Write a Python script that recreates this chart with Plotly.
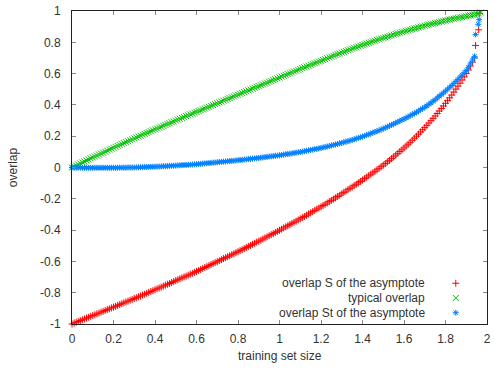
import plotly.graph_objects as go

# training set size (alpha) at which the overlaps were evaluated
alpha = [
    0.00, 0.01, 0.02, 0.03, 0.04, 0.05, 0.06, 0.07, 0.08, 0.09,
    0.10, 0.11, 0.12, 0.13, 0.14, 0.15, 0.16, 0.17, 0.18, 0.19,
    0.20, 0.21, 0.22, 0.23, 0.24, 0.25, 0.26, 0.27, 0.28, 0.29,
    0.30, 0.31, 0.32, 0.33, 0.34, 0.35, 0.36, 0.37, 0.38, 0.39,
    0.40, 0.41, 0.42, 0.43, 0.44, 0.45, 0.46, 0.47, 0.48, 0.49,
    0.50, 0.51, 0.52, 0.53, 0.54, 0.55, 0.56, 0.57, 0.58, 0.59,
    0.60, 0.61, 0.62, 0.63, 0.64, 0.65, 0.66, 0.67, 0.68, 0.69,
    0.70, 0.71, 0.72, 0.73, 0.74, 0.75, 0.76, 0.77, 0.78, 0.79,
    0.80, 0.81, 0.82, 0.83, 0.84, 0.85, 0.86, 0.87, 0.88, 0.89,
    0.90, 0.91, 0.92, 0.93, 0.94, 0.95, 0.96, 0.97, 0.98, 0.99,
    1.00, 1.01, 1.02, 1.03, 1.04, 1.05, 1.06, 1.07, 1.08, 1.09,
    1.10, 1.11, 1.12, 1.13, 1.14, 1.15, 1.16, 1.17, 1.18, 1.19,
    1.20, 1.21, 1.22, 1.23, 1.24, 1.25, 1.26, 1.27, 1.28, 1.29,
    1.30, 1.31, 1.32, 1.33, 1.34, 1.35, 1.36, 1.37, 1.38, 1.39,
    1.40, 1.41, 1.42, 1.43, 1.44, 1.45, 1.46, 1.47, 1.48, 1.49,
    1.50, 1.51, 1.52, 1.53, 1.54, 1.55, 1.56, 1.57, 1.58, 1.59,
    1.60, 1.61, 1.62, 1.63, 1.64, 1.65, 1.66, 1.67, 1.68, 1.69,
    1.70, 1.71, 1.72, 1.73, 1.74, 1.75, 1.76, 1.77, 1.78, 1.79,
    1.80, 1.81, 1.82, 1.83, 1.84, 1.85, 1.86, 1.87, 1.88, 1.89,
    1.90, 1.91, 1.92, 1.93, 1.94,
]

# overlap S of the asymptote
overlap_s = [
    -1.000, -0.994, -0.989, -0.984, -0.978, -0.973, -0.968, -0.962, -0.957, -0.951,
    -0.946, -0.941, -0.935, -0.930, -0.924, -0.919, -0.914, -0.908, -0.903, -0.897,
    -0.892, -0.887, -0.881, -0.876, -0.870, -0.865, -0.859, -0.854, -0.848, -0.843,
    -0.837, -0.832, -0.826, -0.821, -0.815, -0.810, -0.804, -0.798, -0.792, -0.787,
    -0.781, -0.775, -0.770, -0.764, -0.758, -0.752, -0.746, -0.741, -0.735, -0.729,
    -0.723, -0.717, -0.711, -0.705, -0.699, -0.694, -0.688, -0.682, -0.676, -0.670,
    -0.664, -0.658, -0.652, -0.645, -0.639, -0.633, -0.627, -0.620, -0.614, -0.608,
    -0.602, -0.595, -0.589, -0.582, -0.576, -0.570, -0.564, -0.557, -0.551, -0.544,
    -0.538, -0.531, -0.525, -0.518, -0.511, -0.504, -0.498, -0.491, -0.484, -0.477,
    -0.471, -0.464, -0.457, -0.450, -0.443, -0.436, -0.429, -0.422, -0.415, -0.408,
    -0.401, -0.394, -0.386, -0.379, -0.372, -0.365, -0.357, -0.350, -0.343, -0.335,
    -0.328, -0.320, -0.313, -0.305, -0.297, -0.290, -0.282, -0.274, -0.266, -0.259,
    -0.251, -0.243, -0.235, -0.227, -0.218, -0.210, -0.202, -0.194, -0.185, -0.177,
    -0.168, -0.159, -0.151, -0.142, -0.133, -0.125, -0.116, -0.107, -0.098, -0.089,
    -0.080, -0.071, -0.062, -0.053, -0.043, -0.034, -0.024, -0.015, -0.005, 0.005,
    0.015, 0.025, 0.036, 0.046, 0.057, 0.068, 0.079, 0.090, 0.102, 0.113,
    0.125, 0.137, 0.149, 0.161, 0.174, 0.187, 0.200, 0.213, 0.227, 0.241,
    0.255, 0.269, 0.284, 0.299, 0.314, 0.329, 0.345, 0.361, 0.377, 0.393,
    0.410, 0.427, 0.445, 0.463, 0.482, 0.501, 0.520, 0.539, 0.559, 0.579,
    0.600, 0.623, 0.648, 0.673, 0.700,
]
alpha_s_tail = [1.945, 1.960, 1.965]
overlap_s_tail = [0.780, 0.880, 0.985]

# typical overlap
overlap_typ = [
    0.000, 0.006, 0.013, 0.019, 0.026, 0.032, 0.038, 0.045, 0.051, 0.058,
    0.064, 0.070, 0.076, 0.083, 0.089, 0.095, 0.101, 0.108, 0.114, 0.120,
    0.126, 0.132, 0.138, 0.144, 0.150, 0.156, 0.162, 0.168, 0.174, 0.180,
    0.186, 0.192, 0.198, 0.203, 0.209, 0.215, 0.221, 0.226, 0.232, 0.238,
    0.244, 0.249, 0.255, 0.260, 0.266, 0.272, 0.278, 0.283, 0.289, 0.294,
    0.300, 0.306, 0.311, 0.317, 0.322, 0.328, 0.333, 0.339, 0.344, 0.350,
    0.355, 0.361, 0.366, 0.372, 0.377, 0.383, 0.388, 0.394, 0.399, 0.405,
    0.410, 0.416, 0.421, 0.427, 0.432, 0.438, 0.443, 0.449, 0.454, 0.460,
    0.465, 0.471, 0.476, 0.482, 0.487, 0.493, 0.498, 0.504, 0.509, 0.515,
    0.520, 0.526, 0.531, 0.537, 0.542, 0.548, 0.553, 0.559, 0.564, 0.570,
    0.575, 0.581, 0.586, 0.591, 0.597, 0.602, 0.607, 0.613, 0.618, 0.624,
    0.629, 0.635, 0.640, 0.645, 0.650, 0.656, 0.661, 0.666, 0.671, 0.677,
    0.682, 0.687, 0.692, 0.698, 0.703, 0.708, 0.713, 0.719, 0.724, 0.729,
    0.734, 0.739, 0.744, 0.749, 0.754, 0.759, 0.764, 0.769, 0.773, 0.778,
    0.783, 0.788, 0.792, 0.797, 0.801, 0.806, 0.810, 0.815, 0.819, 0.824,
    0.828, 0.832, 0.836, 0.840, 0.844, 0.849, 0.853, 0.857, 0.861, 0.865,
    0.869, 0.873, 0.876, 0.880, 0.884, 0.888, 0.891, 0.895, 0.899, 0.902,
    0.906, 0.910, 0.913, 0.916, 0.919, 0.923, 0.926, 0.929, 0.932, 0.936,
    0.939, 0.942, 0.945, 0.948, 0.950, 0.953, 0.956, 0.959, 0.961, 0.964,
    0.967, 0.970, 0.972, 0.975, 0.978,
]
alpha_typ_tail = [1.95, 1.96, 1.97]
overlap_typ_tail = [0.981, 0.985, 0.990]

# overlap St of the asymptote
overlap_st = [
    0.000, 0.000, -0.001, -0.001, -0.001, -0.002, -0.002, -0.002, -0.002, -0.002,
    -0.002, -0.002, -0.002, -0.002, -0.002, -0.002, -0.002, -0.002, -0.002, -0.002,
    -0.002, -0.002, -0.002, -0.001, -0.001, -0.001, -0.001, 0.000, 0.000, 0.000,
    0.000, 0.001, 0.001, 0.002, 0.002, 0.003, 0.003, 0.004, 0.004, 0.005,
    0.005, 0.006, 0.006, 0.007, 0.008, 0.008, 0.009, 0.010, 0.011, 0.011,
    0.012, 0.013, 0.014, 0.015, 0.016, 0.016, 0.017, 0.018, 0.019, 0.020,
    0.021, 0.022, 0.023, 0.025, 0.026, 0.027, 0.028, 0.030, 0.031, 0.032,
    0.033, 0.035, 0.036, 0.037, 0.038, 0.040, 0.041, 0.042, 0.043, 0.045,
    0.046, 0.048, 0.049, 0.051, 0.052, 0.054, 0.055, 0.057, 0.058, 0.060,
    0.061, 0.063, 0.064, 0.066, 0.068, 0.070, 0.071, 0.073, 0.075, 0.076,
    0.078, 0.080, 0.082, 0.084, 0.086, 0.088, 0.090, 0.093, 0.095, 0.097,
    0.099, 0.102, 0.104, 0.107, 0.109, 0.112, 0.114, 0.117, 0.119, 0.122,
    0.125, 0.128, 0.131, 0.134, 0.137, 0.141, 0.144, 0.147, 0.150, 0.154,
    0.157, 0.161, 0.165, 0.168, 0.172, 0.176, 0.180, 0.185, 0.189, 0.193,
    0.197, 0.202, 0.207, 0.212, 0.217, 0.222, 0.227, 0.232, 0.237, 0.243,
    0.248, 0.254, 0.260, 0.266, 0.272, 0.278, 0.284, 0.291, 0.297, 0.304,
    0.310, 0.317, 0.324, 0.331, 0.339, 0.346, 0.353, 0.361, 0.369, 0.377,
    0.385, 0.394, 0.404, 0.413, 0.423, 0.433, 0.444, 0.455, 0.466, 0.477,
    0.488, 0.500, 0.512, 0.524, 0.537, 0.550, 0.563, 0.577, 0.591, 0.605,
    0.620, 0.640, 0.662, 0.686, 0.710,
]
alpha_st_tail = [1.945, 1.958, 1.962]
overlap_st_tail = [0.850, 0.915, 0.945]

x_ticks = [0, 0.2, 0.4, 0.6, 0.8, 1, 1.2, 1.4, 1.6, 1.8, 2]
x_tick_text = ["0", "0.2", "0.4", "0.6", "0.8", "1", "1.2", "1.4", "1.6", "1.8", "2"]
y_ticks = [-1, -0.8, -0.6, -0.4, -0.2, 0, 0.2, 0.4, 0.6, 0.8, 1]
y_tick_text = ["-1", "-0.8", "-0.6", "-0.4", "-0.2", "0", "0.2", "0.4", "0.6", "0.8", "1"]

series_names = ["overlap S of the asymptote", "typical overlap", "overlap St of the asymptote"]
series_colors = ["#ff0000", "#00c000", "#0080ff"]
series_symbols = ["cross-thin", "x-thin", "asterisk"]
series_sizes = [5, 6, 5]

FONT = "Liberation Sans, Arial, sans-serif"
TEXT = "#333333"

fig = go.Figure()

series = [
    (alpha + alpha_s_tail, overlap_s + overlap_s_tail),
    (alpha + alpha_typ_tail, overlap_typ + overlap_typ_tail),
    (alpha + alpha_st_tail, overlap_st + overlap_st_tail),
]
for (xs, ys), name, color, sym, size in zip(series, series_names, series_colors,
                                            series_symbols, series_sizes):
    fig.add_trace(go.Scatter(
        x=xs, y=ys, mode="markers", name=name, showlegend=False,
        cliponaxis=False,
        marker=dict(symbol=sym, size=size, color=color,
                    line=dict(color=color, width=1)),
    ))

# key: label text on the left, sample point on the right
# (rows sit on half-pixel centres so the thin symbols stay crisp)
key_x = 0.9248
key_rows = [0.1301, 0.0831, 0.0361]
for name, color, sym, size, ky in zip(series_names, series_colors, series_symbols,
                                      series_sizes, key_rows):
    fig.add_trace(go.Scatter(
        x=[key_x], y=[ky], xaxis="x2", yaxis="y2", mode="markers",
        showlegend=False, hoverinfo="skip", cliponaxis=False,
        marker=dict(symbol=sym, size=size, color=color,
                    line=dict(color=color, width=1)),
    ))
    fig.add_annotation(
        x=0.856, y=ky, xref="paper", yref="paper", text=name,
        showarrow=False, xanchor="right", yanchor="middle",
        font=dict(family=FONT, size=12, color=TEXT),
    )

axis_common = dict(
    showline=True, linecolor="#222222", linewidth=1, mirror="allticks",
    ticks="inside", ticklen=4, tickcolor="#888888", tickwidth=1,
    showgrid=False, zeroline=False, ticklabeloverflow="allow",
    tickfont=dict(family=FONT, size=12, color=TEXT),
)

fig.update_layout(
    width=495, height=375,
    margin=dict(l=72, r=4, t=5, b=51),
    paper_bgcolor="white", plot_bgcolor="white",
    xaxis=dict(range=[0, 2], tickvals=x_ticks, ticktext=x_tick_text,
               ticklabelstandoff=4, **axis_common),
    yaxis=dict(range=[-1, 1], tickvals=y_ticks, ticktext=y_tick_text,
               ticklabelstandoff=8, **axis_common),
    xaxis2=dict(range=[0, 1], overlaying="x", anchor="y2", visible=False),
    yaxis2=dict(range=[0, 1], overlaying="y", anchor="x2", visible=False),
    showlegend=False,
)

# axis titles
fig.add_annotation(x=0.5, y=-0.103, xref="paper", yref="paper",
                   text="training set size", showarrow=False,
                   xanchor="center", yanchor="middle",
                   font=dict(family=FONT, size=12, color=TEXT))
fig.add_annotation(x=-0.143, y=0.5, xref="paper", yref="paper",
                   text="overlap", showarrow=False, textangle=-90,
                   xanchor="center", yanchor="middle",
                   font=dict(family=FONT, size=12, color=TEXT))

fig.write_html("out.html")
